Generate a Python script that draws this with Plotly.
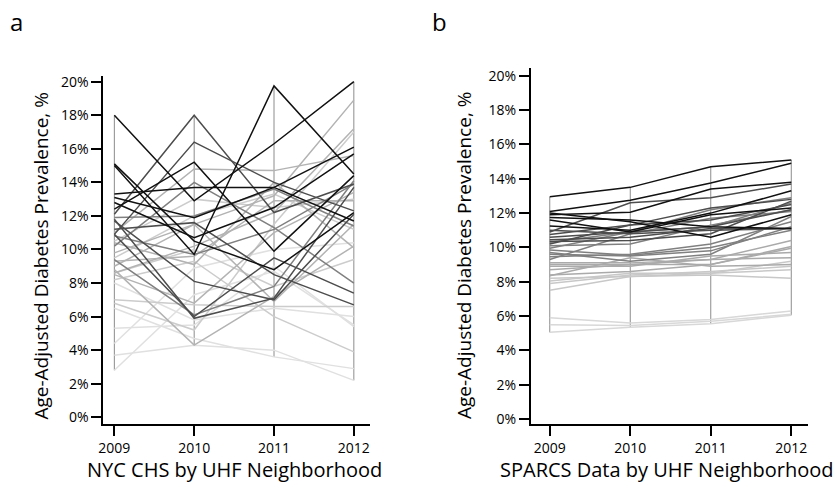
import plotly.graph_objects as go

years = [2009, 2010, 2011, 2012]

# Panel a: NYC CHS by UHF neighborhood (age-adjusted diabetes prevalence, %)
chs_values = [
    [18.0, 12.9, 16.3, 20.0],
    [15.0, 9.7, 19.75, 14.5],
    [15.1, 10.5, 8.8, 12.2],
    [12.4, 15.2, 9.9, 14.4],
    [13.3, 13.7, 13.7, 11.7],
    [13.1, 11.9, 13.7, 16.1],
    [12.8, 10.7, 12.5, 15.7],
    [12.1, 18.0, 12.2, 13.9],
    [10.9, 16.4, 14.0, 12.3],
    [11.7, 8.1, 7.0, 12.1],
    [11.8, 5.9, 7.1, 13.7],
    [10.9, 6.0, 9.5, 7.4],
    [11.2, 11.6, 8.5, 6.7],
    [9.4, 6.1, 7.8, 14.1],
    [10.8, 9.7, 11.2, 13.9],
    [11.9, 12.0, 13.6, 11.4],
    [10.2, 14.0, 11.3, 8.0],
    [11.0, 14.8, 14.7, 15.6],
    [9.8, 11.5, 13.2, 18.9],
    [8.6, 10.2, 12.2, 17.2],
    [9.3, 9.6, 12.9, 12.9],
    [10.4, 9.1, 14.0, 10.1],
    [8.5, 6.8, 11.0, 13.4],
    [9.0, 11.5, 6.9, 11.5],
    [8.8, 4.3, 7.2, 10.2],
    [7.0, 6.7, 6.6, 6.6],
    [8.2, 9.3, 6.0, 3.9],
    [8.6, 10.0, 7.8, 9.4],
    [10.5, 13.0, 12.5, 13.0],
    [9.5, 12.0, 13.3, 11.2],
    [6.8, 5.2, 11.5, 17.0],
    [5.3, 5.5, 9.0, 5.4],
    [3.7, 4.3, 4.0, 2.2],
    [2.8, 7.3, 8.7, 5.5],
    [6.5, 4.7, 3.6, 2.9],
    [8.0, 5.8, 6.5, 6.0],
    [4.4, 8.9, 10.0, 10.4],
]
chs_shades = (["#111111"] * 7 + ["#4d4d4d"] * 6 + ["#808080"] * 4 +
              ["#b3b3b3"] * 8 + ["#cccccc"] * 6 + ["#e0e0e0"] * 6)

# Panel b: SPARCS data by UHF neighborhood
sparcs_values = [
    [12.95, 13.5, 14.7, 15.1],
    [12.1, 12.75, 13.75, 14.9],
    [11.9, 12.05, 13.4, 13.8],
    [12.0, 11.5, 10.6, 11.9],
    [11.75, 11.6, 11.2, 11.1],
    [11.25, 11.0, 12.0, 13.3],
    [11.6, 10.9, 11.9, 12.3],
    [10.9, 12.6, 12.9, 13.7],
    [10.75, 11.3, 12.3, 12.8],
    [10.6, 10.9, 11.2, 12.2],
    [10.45, 10.6, 11.1, 11.1],
    [10.35, 10.4, 10.8, 12.7],
    [10.2, 11.3, 11.6, 12.5],
    [11.0, 10.8, 11.0, 11.1],
    [10.3, 10.9, 12.2, 12.9],
    [9.95, 10.9, 11.2, 12.6],
    [9.85, 9.55, 10.0, 11.0],
    [9.6, 9.5, 9.8, 11.2],
    [9.45, 9.6, 10.2, 11.5],
    [9.3, 10.8, 11.7, 12.1],
    [10.1, 10.2, 11.3, 12.2],
    [9.7, 9.2, 9.6, 11.8],
    [9.1, 9.1, 9.3, 10.4],
    [9.0, 9.0, 9.0, 10.05],
    [8.9, 8.9, 9.5, 9.7],
    [8.7, 9.0, 9.3, 9.4],
    [8.4, 8.6, 9.0, 9.95],
    [8.35, 9.4, 8.9, 9.0],
    [8.05, 8.5, 8.5, 8.7],
    [7.9, 8.4, 8.6, 8.9],
    [7.5, 8.3, 8.4, 8.2],
    [8.2, 8.3, 8.5, 9.2],
    [5.9, 5.6, 5.8, 6.3],
    [5.5, 5.45, 5.7, 6.1],
    [5.05, 5.35, 5.55, 6.05],
]
sparcs_shades = (["#111111"] * 7 + ["#4d4d4d"] * 7 + ["#808080"] * 8 +
                 ["#aaaaaa"] * 6 + ["#c8c8c8"] * 4 + ["#d8d8d8"] * 3)

y_ticks = list(range(0, 21, 2))
y_tick_text = [f"{v}%" for v in y_ticks]

panel_letters = ["a", "b"]
x_titles = ["NYC CHS by UHF Neighborhood", "SPARCS Data by UHF Neighborhood"]
y_title = "Age-Adjusted Diabetes Prevalence, %"

FONT = "Open Sans, Noto Sans, sans-serif"
W, H = 837, 488

fig = go.Figure()


def add_panel(values, shades, xa, ya):
    # year "axes": vertical range lines from min to max
    vx, vy = [], []
    for i, yr in enumerate(years):
        col = [row[i] for row in values]
        vx += [yr, yr, None]
        vy += [min(col), max(col), None]
    fig.add_trace(go.Scatter(x=vx, y=vy, mode="lines", xaxis=xa, yaxis=ya,
                             line=dict(color="#8c8c8c", width=1),
                             hoverinfo="skip", showlegend=False))
    order = list(range(len(values)))[::-1]
    for k in order:
        fig.add_trace(go.Scatter(x=years, y=values[k], mode="lines",
                                 xaxis=xa, yaxis=ya,
                                 line=dict(color=shades[k], width=1.5),
                                 showlegend=False))


add_panel(chs_values, chs_shades, "x", "y")
add_panel(sparcs_values, sparcs_shades, "x2", "y2")

axis_common = dict(showgrid=False, zeroline=False, showline=True, linecolor="black",
                   linewidth=2, ticks="outside", ticklen=10, tickwidth=1.5,
                   tickcolor="black", tickfont=dict(family=FONT, size=14, color="black"))

fig.update_layout(
    width=W, height=H, margin=dict(l=0, r=0, t=0, b=0),
    paper_bgcolor="white", plot_bgcolor="white",
    xaxis=dict(domain=[99 / W, 367 / W], range=[2008.863, 2012.2], tickvals=years,
               anchor="y", **axis_common),
    yaxis=dict(domain=[1 - 427 / H, 1 - 73 / H], range=[-0.40, 20.35],
               tickvals=y_ticks, ticktext=y_tick_text, anchor="x", **axis_common),
    xaxis2=dict(domain=[529 / W, 808 / W], range=[2008.765, 2012.21], tickvals=years,
                anchor="y2", **axis_common),
    yaxis2=dict(domain=[1 - 427 / H, 1 - 65 / H], range=[-0.29, 20.46],
                tickvals=y_ticks, ticktext=y_tick_text, anchor="x2", **axis_common),
)

annotations = [
    dict(text=panel_letters[0], x=12 / W, y=1 - 18 / H),
    dict(text=panel_letters[1], x=437 / W, y=1 - 18 / H),
]
for a in annotations:
    a.update(xref="paper", yref="paper", showarrow=False, xanchor="center",
             yanchor="middle", font=dict(family=FONT, size=24, color="black"))

titles = [
    dict(text=x_titles[0], x=231 / W, y=1 - 473 / H, size=20),
    dict(text=x_titles[1], x=666 / W, y=1 - 473 / H, size=20),
    dict(text=y_title, x=36 / W, y=1 - 256 / H, textangle=-90, size=19),
    dict(text=y_title, x=462 / W, y=1 - 256 / H, textangle=-90, size=19),
]
for t in titles:
    size = t.pop("size")
    t.update(xref="paper", yref="paper", showarrow=False, xanchor="center",
             yanchor="middle", font=dict(family=FONT, size=size, color="black"))

fig.update_layout(annotations=annotations + titles)

fig.write_html(
    "out.html",
    config={"displayModeBar": False},
    post_script="document.body.style.margin='0';document.body.style.padding='0';"
                "document.body.style.overflow='hidden';",
)
